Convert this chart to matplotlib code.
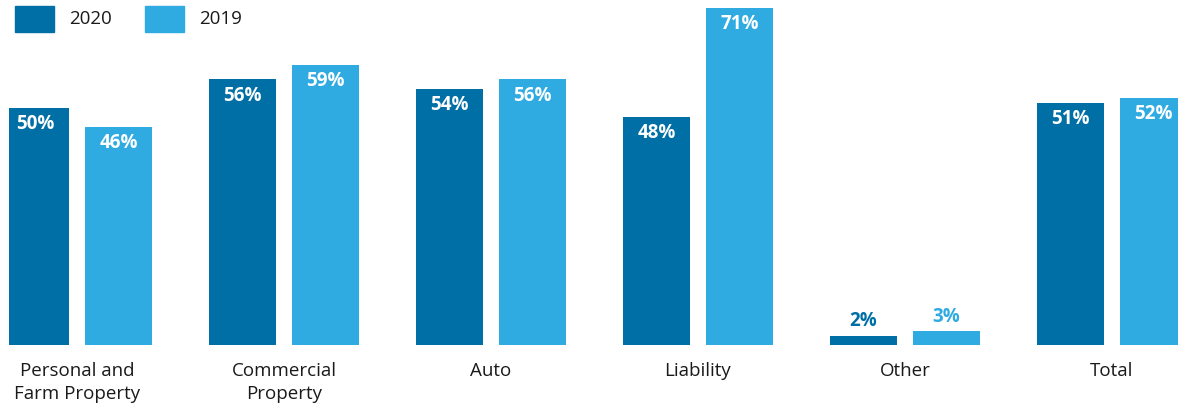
import matplotlib.pyplot as plt
from matplotlib.patches import Rectangle
import numpy as np

categories = ["Personal and\nFarm Property", "Commercial\nProperty", "Auto", "Liability", "Other", "Total"]
vals_2020 = [50, 56, 54, 48, 2, 51]
vals_2019 = [46, 59, 56, 71, 3, 52]
series_names = ["2020", "2019"]

dark = '#006fa6'
light = '#2fabe2'
font = 'Open Sans'

W, H = 1178, 412
fig = plt.figure(figsize=(W / 100, H / 100), dpi=100)
ax = fig.add_axes([9 / W, (H - 345) / H, (W - 9) / W, 345 / H])

x = np.arange(len(categories))
width = 0.324
off = 0.2

b1 = ax.bar(x - off, vals_2020, width, color=dark)
b2 = ax.bar(x + off, vals_2019, width, color=light)

ax.set_xlim(-0.3285, 5.319)
ax.set_ylim(0, 72.7)

for bars, vals, col in [(b1, vals_2020, dark), (b2, vals_2019, light)]:
    for b, v in zip(bars, vals):
        cx = b.get_x() + b.get_width() / 2
        if v < 10:
            ax.annotate(f"{v}%", (cx, v), xytext=(0, 3), textcoords='offset points',
                        ha='center', va='bottom', color=col, fontsize=13.5,
                        fontweight='bold', family=font)
        else:
            ax.annotate(f"{v}%", (cx, v), xytext=(0, -4.5), textcoords='offset points',
                        ha='center', va='top', color='white', fontsize=13.5,
                        fontweight='bold', family=font)

ax.set_xticks(x)
ax.set_xticklabels(categories, fontsize=13.5, family=font, color='#1a1a1a', linespacing=1.4)
ax.tick_params(axis='x', length=0, pad=12)
ax.set_yticks([])
for s in ax.spines.values():
    s.set_visible(False)

# legend drawn by hand in pixel space
for i, (name, col) in enumerate(zip(series_names, [dark, light])):
    x0 = 15 + i * 130
    fig.add_artist(Rectangle((x0 / W, (H - 32) / H), 39 / W, 26 / H, color=col,
                             transform=fig.transFigure))
    fig.text((x0 + 54) / W, (H - 19) / H, name, fontsize=13.5, family=font,
             va='center', ha='left', color='#1a1a1a')

fig.savefig('out.png', dpi=100)
